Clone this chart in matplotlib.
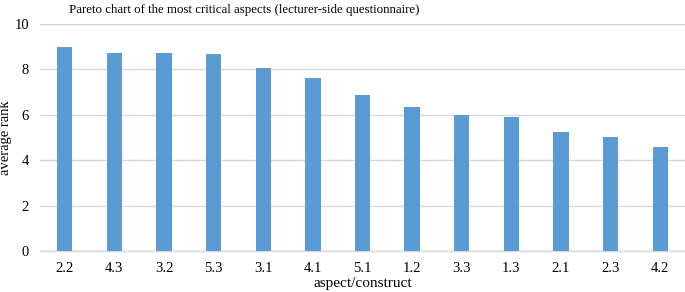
import matplotlib
matplotlib.use('Agg')
import matplotlib.pyplot as plt

# aspect/construct codes, sorted by average rank
aspects = ['2.2', '4.3', '3.2', '5.3', '3.1', '4.1', '5.1', '1.2', '3.3', '1.3', '2.1', '2.3', '4.2']
avg_rank = [8.98, 8.72, 8.72, 8.66, 8.08, 7.64, 6.88, 6.34, 5.99, 5.92, 5.24, 5.03, 4.57]

plt.rcParams['font.family'] = ['Liberation Serif', 'DejaVu Serif']

fig = plt.figure(figsize=(6.85, 2.92), dpi=100)
ax = fig.add_axes([40 / 685, 41 / 292, 645 / 685, 227 / 292])

x = range(len(aspects))
ax.bar(x, avg_rank, width=0.31, color='#5b9bd5', zorder=3)

ax.set_xlim(-0.5, len(aspects) - 0.5)
ax.set_ylim(0, 10)
ax.set_yticks(range(0, 11, 2))
ax.set_xticks(list(x))
ax.set_xticklabels(aspects)
ax.tick_params(axis='both', length=0, labelsize=10.5, colors='#000000')
ax.tick_params(axis='y', pad=8)
ax.tick_params(axis='x', pad=8)

ax.grid(axis='y', color='#d9d9d9', linewidth=1, zorder=0)
for side in ['top', 'right', 'left']:
    ax.spines[side].set_visible(False)
ax.spines['bottom'].set_color('#d9d9d9')
ax.spines['bottom'].set_linewidth(1)

ax.set_xlabel('aspect/construct', fontsize=11, labelpad=1)
ax.set_ylabel('average rank', fontsize=10.5)
ax.yaxis.set_label_coords(-0.043, 0.5)

fig.text(244 / 685, 1 - 10 / 292, 'Pareto chart of the most critical aspects (lecturer-side questionnaire)',
         ha='center', va='center', fontsize=9.3)

fig.savefig('out.png', dpi=100)
